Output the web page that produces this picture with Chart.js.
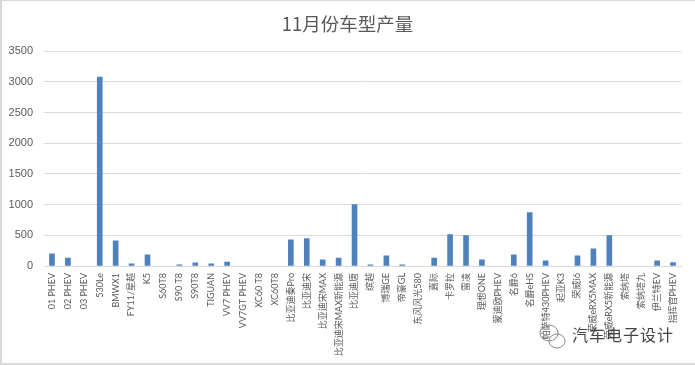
<!DOCTYPE html>
<html>
<head>
<meta charset="utf-8">
<script src="https://cdn.jsdelivr.net/npm/chart.js@4"></script>
<style>
  html, body { margin: 0; padding: 0; background: #fff; overflow: hidden; }
  #wrap { position: relative; width: 695px; height: 365px; }
  #frame { position: absolute; left: 0; top: 0; width: 693px; height: 362px; border: solid #d9d9d9; border-width: 1px 0 2px 2px; box-sizing: content-box; pointer-events: none; }
  #mark { position: absolute; left: 572px; top: 322px; font: 16px "Noto Sans CJK SC", sans-serif; letter-spacing: 1px; color: #444; white-space: nowrap; }
  #logo { position: absolute; left: 538px; top: 322px; }
</style>
</head>
<body>
<div id="wrap">
  <canvas id="chart" width="695" height="365"></canvas>
  <div id="frame"></div>
  <svg id="logo" width="30" height="30" fill="none" stroke="#8a8a8a" stroke-width="1">
    <ellipse cx="11" cy="11" rx="9" ry="8"/>
    <ellipse cx="19" cy="19" rx="8" ry="7"/>
  </svg>
  <div id="mark">汽车电子设计</div>
</div>
<script>
const chartTitle = "11月份车型产量";
const categories = ["01 PHEV", "02 PHEV", "03 PHEV", "530Le", "BMWX1", "FY11/星越", "K5", "S60T8", "S90 T8", "S90T8",
  "TIGUAN", "VV7 PHEV", "VV7GT PHEV", "XC60 T8", "XC60T8", "比亚迪秦Pro", "比亚迪宋", "比亚迪宋MAX", "比亚迪宋MAX新能源", "比亚迪唐",
  "缤越", "博瑞GE", "帝豪GL", "东风风光580", "嘉际", "卡罗拉", "雷凌", "理想ONE", "蒙迪欧PHEV", "名爵6",
  "名爵eHS", "帕萨特430PHEV", "起亚K3", "荣威i6", "荣威eRX5MAX", "荣威eRX5新能源", "索纳塔", "索纳塔九", "伊兰特EV", "指挥官PHEV"];
const output = [200, 130, 0, 3080, 410, 35, 180, 0, 20, 50,
  35, 65, 0, 0, 0, 425, 445, 100, 130, 1000,
  20, 165, 20, 0, 130, 510, 495, 100, 0, 180,
  870, 85, 0, 165, 280, 495, 0, 0, 85, 55];
const yTicks = [0, 500, 1000, 1500, 2000, 2500, 3000, 3500];

new Chart(document.getElementById("chart"), {
  type: "bar",
  data: {
    labels: categories,
    datasets: [{
      data: output,
      // zero rows would otherwise leave a faint dash on the axis
      backgroundColor: ctx => ctx.raw === 0 ? "transparent" : "#4f81bd",
      barThickness: 5
    }]
  },
  options: {
    responsive: false,
    animation: false,
    plugins: {
      legend: { display: false },
      tooltip: { enabled: false },
      title: {
        display: true,
        text: chartTitle,
        color: "#595959",
        font: { family: '"Noto Sans CJK SC", sans-serif', size: 18.5, weight: "normal" },
        padding: { top: 13, bottom: 16 }
      }
    },
    scales: {
      x: {
        grid: { display: false, drawTicks: false },
        border: { color: "#d9d9d9" },
        afterFit(scale) { scale.height = 99; },
        ticks: {
          autoSkip: false,
          minRotation: 90,
          maxRotation: 90,
          padding: 7,
          color: "#595959",
          font: { family: 'Lato, "Noto Sans CJK SC", sans-serif', size: 9 }
        }
      },
      y: {
        min: 0,
        max: 3500,
        afterFit(scale) { scale.width = 44; },
        afterBuildTicks(scale) { scale.ticks = yTicks.map(v => ({ value: v })); },
        grid: { color: "#d9d9d9", drawTicks: false },
        border: { display: false },
        ticks: {
          padding: 11,
          color: "#595959",
          font: { family: '"Liberation Sans", sans-serif', size: 11 },
          callback: v => String(v)
        }
      },
      // empty axis, only holds the right margin so the title stays centred on the page
      rightGap: {
        position: "right",
        afterFit(scale) { scale.width = 14; },
        grid: { display: false, drawTicks: false },
        border: { display: false },
        ticks: { display: false }
      }
    }
  }
});
</script>
</body>
</html>
